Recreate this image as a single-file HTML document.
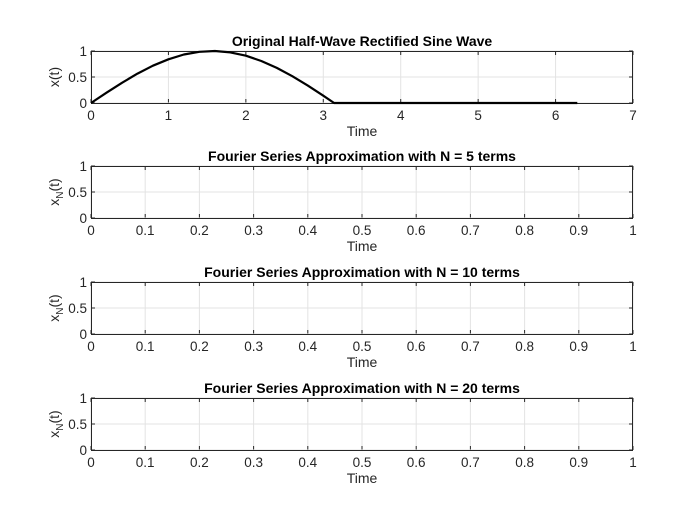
<!DOCTYPE html>
<html><head><meta charset="utf-8"><style>
body{margin:0;background:#fff;}
svg{display:block;font-family:"Liberation Sans",Arial,sans-serif;}
</style></head><body>
<svg id="fig" width="700" height="525" viewBox="0 0 700 525"></svg>
<script>
const timeValues=[0,0.2,0.4,0.6,0.8,1.0,1.2,1.4,1.6,1.8,2.0,2.2,2.4,2.6,2.8,3.0,3.14,3.5,4.0,4.5,5.0,5.5,6.0,6.28];
const signalValues=[0,0.199,0.389,0.565,0.717,0.841,0.932,0.985,1.0,0.974,0.909,0.808,0.675,0.516,0.335,0.141,0,0,0,0,0,0,0,0];
const xTicksMain=[0,1,2,3,4,5,6,7];
const xTicksUnit=[0,0.1,0.2,0.3,0.4,0.5,0.6,0.7,0.8,0.9,1];
const yTicks=[0,0.5,1];
const titles=["Original Half-Wave Rectified Sine Wave","Fourier Series Approximation with N = 5 terms","Fourier Series Approximation with N = 10 terms","Fourier Series Approximation with N = 20 terms"];
const NS="http://www.w3.org/2000/svg";
const svg=document.getElementById('fig');
function mk(t,a,p){const e=document.createElementNS(NS,t);for(const k in a)e.setAttribute(k,a[k]);(p||svg).appendChild(e);return e;}
const L=91,R=633,H=52;
const tops=[51,166,282,398];
tops.forEach((top,i)=>{
  const g=mk('g',{});
  
  
  const bot=top+H;
  const ticks=i===0?xTicksMain:xTicksUnit;
  const xmax=ticks[ticks.length-1];
  const xs=v=>L+(v/xmax)*(R-L);
  const ys=v=>bot-v*H;
  mk('rect',{x:L,y:top,width:R-L,height:H,fill:'#fff'},g);
  ticks.forEach(v=>{
    const gl=mk('line',{x1:xs(v),x2:xs(v),y1:top,y2:bot,stroke:'#e3e3e3','stroke-width':1},g);
    
    mk('line',{x1:xs(v),x2:xs(v),y1:bot,y2:bot-4,stroke:'#262626'},g);
    mk('line',{x1:xs(v),x2:xs(v),y1:top,y2:top+4,stroke:'#262626'},g);
    const t=mk('text',{x:xs(v),y:bot+17,'text-anchor':'middle','font-size':13.5,fill:'#262626'},g);
    t.textContent=v;
    
  });
  yTicks.forEach(v=>{
    mk('line',{x1:L,x2:R,y1:ys(v),y2:ys(v),stroke:'#e3e3e3'},g);
    mk('line',{x1:L,x2:L+4,y1:ys(v),y2:ys(v),stroke:'#262626'},g);
    mk('line',{x1:R,x2:R-4,y1:ys(v),y2:ys(v),stroke:'#262626'},g);
    const t=mk('text',{x:L-4,y:ys(v)+5,'text-anchor':'end','font-size':13.5,fill:'#262626'},g);
    t.textContent=v;
    
  });
  const box=mk('rect',{x:L+0.5,y:top+0.5,width:R-L-1,height:H,fill:'none',stroke:'#262626','stroke-width':1},g);
  
  const tt=mk('text',{x:(L+R)/2,y:top-5,'text-anchor':'middle','font-size':14,'font-weight':'bold',fill:'#000'},g);
  tt.textContent=titles[i];
  
  const xl=mk('text',{x:(L+R)/2,y:bot+33,'text-anchor':'middle','font-size':14,fill:'#262626'},g);
  xl.textContent='Time';
  
  const yl=mk('text',{transform:`translate(${L-32},${top+H/2}) rotate(-90)`,'text-anchor':'middle','font-size':14,fill:'#262626'},g);
  if(i===0){yl.textContent='x(t)';}
  else{yl.innerHTML='x<tspan font-size="10" dy="4">N</tspan><tspan dy="-4">(t)</tspan>';}
  
  if(i===0){
    const d=timeValues.map((t,k)=>(k?'L':'M')+xs(t).toFixed(1)+','+ys(signalValues[k]).toFixed(1)).join('');
    const p=mk('path',{d:d,fill:'none',stroke:'#000','stroke-width':2.2,'stroke-linejoin':'round'},g);
    
  }
});
</script>
</body></html>
